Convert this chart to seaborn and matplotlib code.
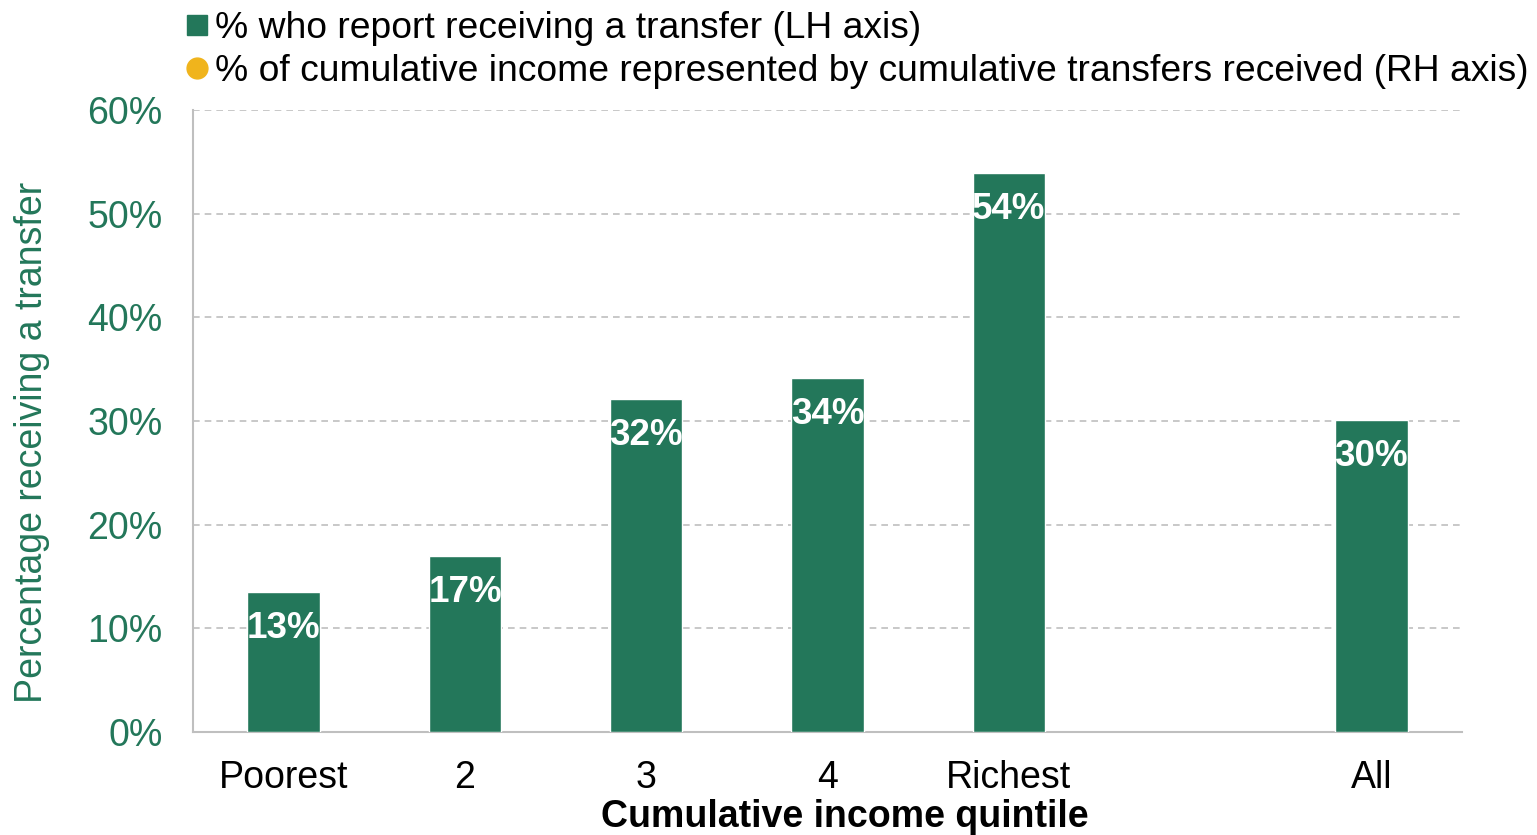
import pandas as pd
import numpy as np
import matplotlib.pyplot as plt
import seaborn as sns
from matplotlib.lines import Line2D
from matplotlib.ticker import FixedLocator, PercentFormatter

# =====================
# DATA
# =====================
categories = ["Poorest", "2", "3", "4", "Richest", " ", "All"]
pct_receiving = [13.5, 17.0, 32.1, 34.1, 53.9, np.nan, 30.1]
bar_labels = ["13%", "17%", "32%", "34%", "54%", "", "30%"]
legend_labels = ["% who report receiving a transfer (LH axis)",
                 "% of cumulative income represented by cumulative transfers received (RH axis)"]

green = "#23775A"
yellow = "#F0B41C"
grey = "#BFBFBF"

df = pd.DataFrame({"quintile": categories, "pct": pct_receiving})

# =====================
# PLOT
# =====================
sns.set_style("white")
plt.rcParams['font.family'] = ['Liberation Sans', 'DejaVu Sans']
plt.rcParams['text.color'] = 'black'

fig = plt.figure(figsize=(15.37, 8.35), dpi=100)
ax = fig.add_axes([0.1256, 0.1234, 0.8256, 0.7449])

sns.barplot(data=df, x="quintile", y="pct", order=categories, color=green,
            width=0.4, saturation=1, ax=ax, zorder=3)

for i, (v, lab) in enumerate(zip(pct_receiving, bar_labels)):
    if lab:
        ax.text(i, v - 3.5, lab, ha="center", va="center", color="white",
                fontsize=26.5, fontweight="bold", zorder=4)

ax.set_xlim(-0.5, len(categories) - 0.5)
ax.set_ylim(0, 60)
ax.set_yticks(range(0, 61, 10))
ax.yaxis.set_major_formatter(PercentFormatter(decimals=0))
ax.yaxis.grid(True, linestyle=(0, (4, 3)), color=grey, linewidth=1.2, zorder=0)

# category boundary ticks
ax.xaxis.set_minor_locator(FixedLocator(np.arange(-0.5, len(categories), 1)))
ax.tick_params(axis="x", which="major", length=0, pad=20, labelsize=27, labelcolor="black")
ax.tick_params(axis="x", which="minor", length=10, width=1.5, color=grey, direction="out")
ax.tick_params(axis="y", length=10, width=1.5, color=grey, labelsize=27,
               labelcolor=green, pad=12)

for s in ["top", "right"]:
    ax.spines[s].set_visible(False)
for s in ["left", "bottom"]:
    ax.spines[s].set_color(grey)
    ax.spines[s].set_linewidth(1.5)

ax.set_xlabel("Cumulative income quintile", fontsize=27, fontweight="bold",
              color="black")
ax.xaxis.set_label_coords(0.514, -0.108)
ax.set_ylabel("Percentage receiving a transfer", fontsize=27, color=green)
ax.yaxis.set_label_coords(-0.113, 0.466)

handles = [Line2D([], [], marker="s", linestyle="none", markersize=14, color=green),
           Line2D([], [], marker="o", linestyle="none", markersize=15, color=yellow)]
leg = fig.legend(handles, legend_labels, loc="upper left", bbox_to_anchor=(0.112, 1.005),
                 frameon=False, fontsize=26.8, handlelength=0.55, handletextpad=0.2,
                 labelspacing=0.22, borderaxespad=0)
for t in leg.get_texts():
    t.set_color("black")

fig.savefig("out.png", dpi=100)
